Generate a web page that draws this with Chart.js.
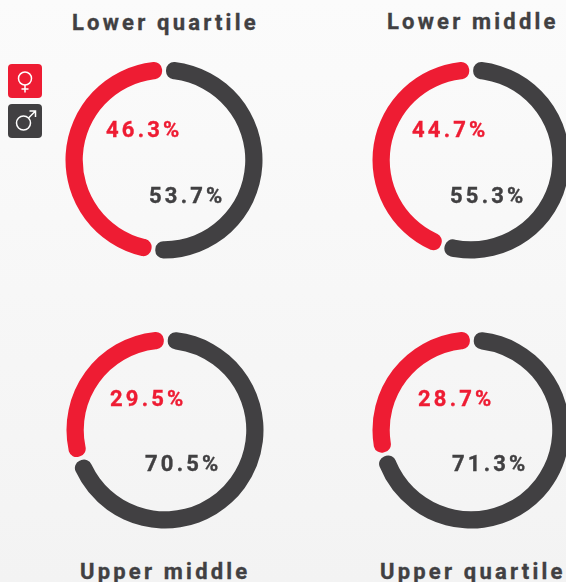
<!DOCTYPE html>
<html>
<head>
<meta charset="utf-8">
<script src="https://cdn.jsdelivr.net/npm/chart.js@4"></script>
<style>
    html, body { margin: 0; padding: 0; }
    body {
        position: relative;
        width: 566px;
        height: 582px;
        overflow: hidden;
        background: linear-gradient(#fbfbfb, #f3f3f3);
        font-family: Roboto, sans-serif;
        font-weight: 700;
        font-size: 22px;
        letter-spacing: 3.2px;
        -webkit-text-stroke: 0.35px currentColor;
        color: #414042;
    }
    canvas { position: absolute; }
    .txt { position: absolute; white-space: nowrap; line-height: 26px; }
    .pct-f { color: #ee1c33; }
    .icon { position: absolute; left: 8px; width: 34px; height: 34px; border-radius: 4px; }
</style>
</head>
<body>
<svg class="icon" style="top:64px;background:#ee1c33" viewBox="0 0 34 34" fill="none" stroke="#fff" stroke-width="1.5">
    <circle cx="17" cy="14.5" r="6.5"/><path d="M17 21V28.5M13.5 25H20.5"/>
</svg>
<svg class="icon" style="top:104px;background:#414042" viewBox="0 0 34 34" fill="none" stroke="#fff" stroke-width="1.5">
    <circle cx="15.5" cy="19" r="7"/><path d="M20.5 14L27.5 7M21.5 7H27.5V13"/>
</svg>
<script>
const categories = ['Lower quartile', 'Lower middle', 'Upper middle', 'Upper quartile'];
// percentages as printed in the picture
const femaleShare = [46.3, 44.7, 29.5, 28.7];
const maleShare = [53.7, 55.3, 70.5, 71.3];
// dark arc as measured off the rings, the drawn arcs don't quite follow the printed
// numbers (first ring is the worst, about 52 against 53.7)
const maleArc = [51.9, 55.1, 70.0, 70.8];

const RED = '#ee1c33';
const DARK = '#414042';
const SIZE = 200;

// layout of each panel: ring centre, title pos, label pos
const centres = [[164, 160], [471, 160], [164.5, 430], [471, 429.5]];
const titlePos = [[72, 10], [387, 9], [80, 559], [380, 559]];
const femalePos = [[106, 117], [412, 117], [110, 386], [418, 386]];
const malePos = [[149, 183], [450, 183], [145, 451], [452, 451]];

function addText(text, pos, cls) {
    const el = document.createElement('div');
    el.className = 'txt ' + (cls || '');
    el.textContent = text;
    el.style.left = pos[0] + 'px';
    el.style.top = pos[1] + 'px';
    document.body.appendChild(el);
}

categories.forEach(function (name, i) {
    const canvas = document.createElement('canvas');
    canvas.width = SIZE;
    canvas.height = SIZE;
    canvas.style.left = (centres[i][0] - SIZE / 2) + 'px';
    canvas.style.top = (centres[i][1] - SIZE / 2) + 'px';
    document.body.appendChild(canvas);

    new Chart(canvas, {
        type: 'doughnut',
        data: {
            labels: ['Male', 'Female'],
            datasets: [{
                data: [maleArc[i], 100 - maleArc[i]],
                backgroundColor: [DARK, RED],
                borderWidth: 0,
                borderRadius: 8,
                spacing: 2.5
            }]
        },
        options: {
            responsive: false,
            animation: false,
            cutout: 80,
            layout: { padding: 1.5 },
            plugins: { legend: { display: false }, tooltip: { enabled: false } }
        }
    });

    addText(name, titlePos[i]);
    addText(femaleShare[i].toFixed(1) + '%', femalePos[i], 'pct-f');
    addText(maleShare[i].toFixed(1) + '%', malePos[i]);
});
</script>
</body>
</html>
